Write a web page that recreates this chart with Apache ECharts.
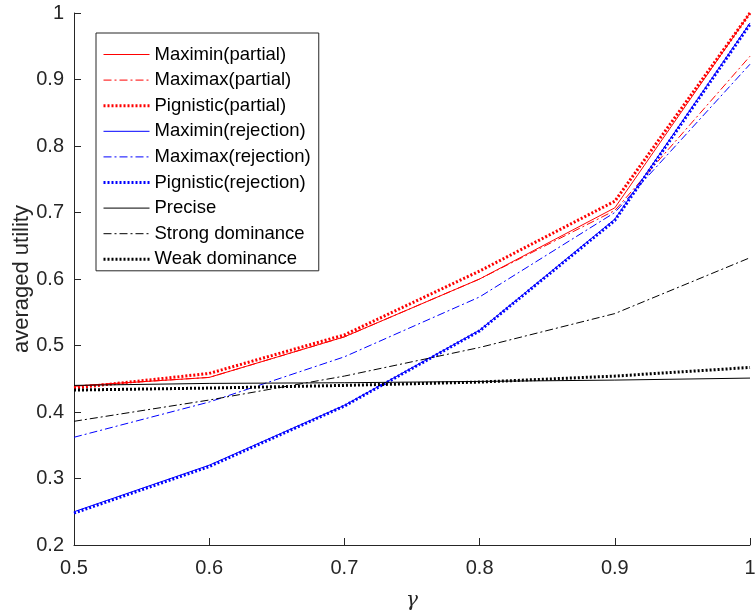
<!DOCTYPE html>
<html>
<head>
<meta charset="utf-8">
<script src="https://cdn.jsdelivr.net/npm/echarts@6/dist/echarts.min.js"></script>
<style>
  html, body { margin: 0; padding: 0; background: #fff; }
  #chart { width: 755px; height: 616px; }
</style>
</head>
<body>
<div id="chart"></div>
<script>
const gammas = [0.5, 0.6, 0.7, 0.8, 0.9, 1];

const maximinPartial = [0.439, 0.452, 0.513, 0.600, 0.707, 1.0];
const maximaxPartial = [0.439, 0.452, 0.513, 0.600, 0.703, 0.935];
const pignisticPartial = [0.436, 0.458, 0.516, 0.612, 0.717, 1.0];
const maximinRejection = [0.250, 0.320, 0.410, 0.523, 0.690, 0.985];
const maximaxRejection = [0.362, 0.415, 0.483, 0.573, 0.700, 0.923];
const pignisticRejection = [0.248, 0.318, 0.409, 0.522, 0.688, 0.983];
const precise = [0.440, 0.443, 0.444, 0.446, 0.448, 0.451];
const strongDominance = [0.386, 0.418, 0.454, 0.497, 0.548, 0.632];
const weakDominance = [0.433, 0.436, 0.440, 0.445, 0.454, 0.467];

const seriesNames = ['Maximin(partial)', 'Maximax(partial)', 'Pignistic(partial)',
  'Maximin(rejection)', 'Maximax(rejection)', 'Pignistic(rejection)',
  'Precise', 'Strong dominance', 'Weak dominance'];

const dashDot = [8, 3, 2, 3];
const dotted = [2, 2];

function line(name, values, color, type, width) {
  return {
    name,
    type: 'line',
    symbol: 'none',
    data: values.map((v, i) => [gammas[i], v]),
    lineStyle: { color, type, width },
    itemStyle: { color },
    emphasis: { disabled: true },
    animation: false,
  };
}

const axisColor = '#262626';

const series = [
  line(seriesNames[0], maximinPartial, '#ff0000', 'solid', 1),
  line(seriesNames[1], maximaxPartial, '#ff0000', dashDot, 1),
  line(seriesNames[2], pignisticPartial, '#ff0000', dotted, 3),
  line(seriesNames[3], maximinRejection, '#0000ff', 'solid', 1),
  line(seriesNames[4], maximaxRejection, '#0000ff', dashDot, 1),
  line(seriesNames[5], pignisticRejection, '#0000ff', dotted, 3),
  line(seriesNames[6], precise, '#000000', 'solid', 1),
  line(seriesNames[7], strongDominance, '#000000', dashDot, 1),
  line(seriesNames[8], weakDominance, '#000000', dotted, 3),
];

const option = {
  backgroundColor: '#fff',
  animation: false,
  grid: { left: 74, right: 5, top: 13, bottom: 71, outerBoundsMode: 'none' },
  legend: {
    orient: 'vertical',
    left: 96,
    top: 33,
    padding: [12, 8, 2, 6],
    itemWidth: 46,
    itemHeight: 16,
    itemGap: 6.6,
    selectedMode: false,
    itemStyle: { opacity: 0 },
    borderColor: axisColor,
    borderWidth: 1,
    textStyle: { fontFamily: 'Liberation Sans', fontSize: 18.5, color: '#000' },
    data: series.map(s => ({
      name: s.name,
      lineStyle: { width: s.lineStyle.width, type: s.lineStyle.type, color: s.lineStyle.color },
    })),
  },
  xAxis: {
    type: 'value',
    min: 0.5,
    max: 1,
    interval: 0.1,
    name: 'γ',
    nameLocation: 'middle',
    nameGap: 46,
    nameMoveOverlap: false,
    nameTextStyle: { fontFamily: 'DejaVu Serif', fontStyle: 'italic', fontSize: 20, color: axisColor },
    axisLine: { lineStyle: { color: axisColor, width: 1 } },
    axisTick: { inside: true, length: 7, lineStyle: { color: axisColor } },
    axisLabel: { fontFamily: 'Liberation Sans', fontSize: 20, color: axisColor, margin: 13 },
    splitLine: { show: false },
  },
  yAxis: {
    type: 'value',
    min: 0.2,
    max: 1,
    interval: 0.1,
    name: 'averaged utility',
    nameLocation: 'middle',
    nameGap: 41,
    nameMoveOverlap: false,
    nameTextStyle: { fontFamily: 'Liberation Sans', fontSize: 22, color: axisColor },
    axisLine: { show: true, lineStyle: { color: axisColor, width: 1 } },
    axisTick: { show: true, inside: true, length: 7, lineStyle: { color: axisColor } },
    axisLabel: { fontFamily: 'Liberation Sans', fontSize: 20, color: axisColor, margin: 10 },
    splitLine: { show: false },
  },
  series,
};

const myChart = echarts.init(document.getElementById('chart'));
myChart.setOption(option);
</script>
</body>
</html>
